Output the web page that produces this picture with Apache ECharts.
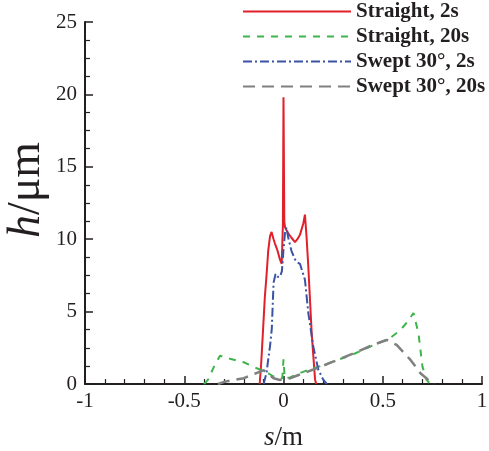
<!DOCTYPE html>
<html>
<head>
<meta charset="utf-8">
<script src="https://cdn.jsdelivr.net/npm/echarts@6/dist/echarts.min.js"></script>
<style>html,body{margin:0;padding:0;background:#fff}#c{width:489px;height:451px}</style>
</head>
<body>
<div id="c"></div>
<script>
var seriesNames = ['Straight, 2s', 'Straight, 20s', 'Swept 30°, 2s', 'Swept 30°, 20s'];

var straight2sS = [-0.12,-0.112,-0.102,-0.094,-0.085,-0.077,-0.068,-0.06,-0.05,-0.043,-0.03,-0.018,-0.009,-0.003,0,0.004,0.008,0.024,0.04,0.058,0.07,0.083,0.1,0.108,0.116,0.125,0.142,0.159,0.165];
var straight2sH = [0,1.5,4.0,6.0,7.6,9.2,10.2,10.5,10.0,9.7,9.2,8.6,8.3,11.0,19.8,11.2,10.8,10.4,10.1,9.8,10.0,10.3,11.1,11.7,10.2,8.1,3.5,0.3,0];

var straight20sS = [-0.4,-0.38,-0.35,-0.32,-0.27,-0.2,-0.12,-0.077,-0.034,-0.006,0,0.006,0.033,0.058,0.12,0.2,0.28,0.343,0.436,0.536,0.587,0.625,0.655,0.68,0.70,0.72,0.74];
var straight20sH = [0,0.3,1.2,1.95,1.75,1.5,1.0,0.74,0.4,0.4,1.7,0.4,0.45,0.62,0.95,1.3,1.7,2.0,2.58,3.17,3.7,4.3,4.9,3.5,1.2,0.3,0];

var swept2sS = [-0.1,-0.085,-0.077,-0.068,-0.059,-0.05,-0.04,-0.03,-0.018,-0.008,0,0.008,0.015,0.024,0.04,0.058,0.07,0.083,0.108,0.125,0.15,0.175,0.2,0.218];
var swept2sH = [0,0.8,1.7,2.6,3.8,7.0,7.6,7.4,7.4,7.8,9.3,10.5,10.8,10.1,9.2,8.6,8.4,8.3,7.2,4.9,2.6,1.0,0.3,0];

var swept20sS = [-0.33,-0.295,-0.2,-0.1,-0.05,-0.018,0.033,0.15,0.25,0.35,0.45,0.52,0.57,0.64,0.69,0.73,0.76];
var swept20sH = [0,0.16,0.4,0.95,0.4,0.28,0.4,1.0,1.54,2.1,2.7,3.04,2.7,1.66,0.74,0.28,0];

var xTicks = [-1, -0.5, 0, 0.5, 1];
var yTicks = [0, 5, 10, 15, 20, 25];

function zip(a, b) { return a.map(function (v, i) { return [v, b[i]]; }); }

var serif = "'Liberation Serif','Times New Roman',serif";
var ink = '#231f20';

var chart = echarts.init(document.getElementById('c'), null, {renderer: 'canvas'});
chart.setOption({
  animation: false,
  backgroundColor: '#fff',
  grid: {left: 85, right: 7, top: 22, bottom: 67, outerBoundsMode: 'none'},
  legend: {
    orient: 'vertical',
    left: 242,
    top: 1,
    itemWidth: 108,
    itemHeight: 14,
    itemGap: 4,
    padding: 0,
    data: seriesNames,
    itemStyle: {opacity: 0},
    textStyle: {fontFamily: serif, fontWeight: 'bold', fontSize: 21, color: ink, lineHeight: 21}
  },
  graphic: [{
    type: 'text',
    x: 27, y: 190,
    rotation: Math.PI / 2,
    style: {
      text: '{i|h}/μm',
      align: 'center', verticalAlign: 'middle',
      fill: ink,
      font: '46px ' + serif,
      rich: {i: {fontFamily: serif, fontStyle: 'italic', fontSize: 46, fill: ink}}
    }
  }],
  xAxis: {
    type: 'value', min: xTicks[0], max: xTicks[xTicks.length - 1], interval: 0.5,
    name: '{i|s}/m', nameLocation: 'middle', nameGap: 40,
    nameTextStyle: {fontFamily: serif, fontSize: 27, color: ink,
      rich: {i: {fontFamily: serif, fontStyle: 'italic', fontSize: 27, color: ink}}},
    axisLine: {show: true, onZero: false, lineStyle: {color: ink, width: 2}},
    axisTick: {show: true, inside: true, length: 8, lineStyle: {color: ink, width: 1.5}},
    minorTick: {show: true, splitNumber: 5, length: 5, lineStyle: {color: ink, width: 1.2}},
    axisLabel: {fontFamily: serif, fontSize: 21, color: ink, margin: 7,
      formatter: function (v) { return String(v); }},
    splitLine: {show: false}
  },
  yAxis: {
    type: 'value', min: yTicks[0], max: yTicks[yTicks.length - 1], interval: 5,
    axisLine: {show: true, onZero: false, lineStyle: {color: ink, width: 2}},
    axisTick: {show: true, inside: true, length: 8, lineStyle: {color: ink, width: 1.5}},
    minorTick: {show: true, splitNumber: 4, length: 5, lineStyle: {color: ink, width: 1.2}},
    axisLabel: {fontFamily: serif, fontSize: 21, color: ink, margin: 8},
    splitLine: {show: false}
  },
  series: [
    {name: seriesNames[0], type: 'line', symbol: 'none', data: zip(straight2sS, straight2sH),
     lineStyle: {color: '#e0202a', width: 2, type: 'solid'}, itemStyle: {color: '#e0202a'}, z: 2},
    {name: seriesNames[1], type: 'line', symbol: 'none', data: zip(straight20sS, straight20sH),
     lineStyle: {color: '#3db54a', width: 2, type: [7, 7]}, itemStyle: {color: '#3db54a'}, z: 3},
    {name: seriesNames[2], type: 'line', symbol: 'none', data: zip(swept2sS, swept2sH),
     lineStyle: {color: '#3a53a4', width: 2, type: [9, 3, 2, 3]}, itemStyle: {color: '#3a53a4'}, z: 4},
    {name: seriesNames[3], type: 'line', symbol: 'none', data: zip(swept20sS, swept20sH),
     lineStyle: {color: '#808080', width: 2.5, type: [12, 7]}, itemStyle: {color: '#808080'}, z: 5}
  ]
});
</script>
</body>
</html>
